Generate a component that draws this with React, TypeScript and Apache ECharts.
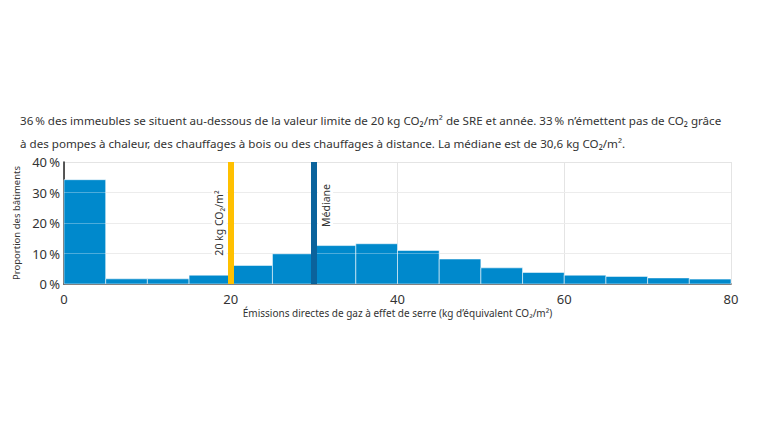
import { useEffect, useRef } from 'react';
import * as echarts from 'echarts';

// histogram bins (kg CO2/m2), share of buildings in %
const binStarts = [0, 5, 10, 15, 20, 25, 30, 35, 40, 45, 50, 55, 60, 65, 70, 75];
const binWidth = 5;
const shares = [34.2, 1.7, 1.7, 2.9, 6.1, 9.9, 12.6, 13.2, 11.0, 8.2, 5.3, 3.8, 2.9, 2.5, 2.0, 1.6];

const limitValue = 20;
const medianValue = 30;

const FONT = '"Noto Sans", sans-serif';

const TITLE =
  '36\u202f% des immeubles se situent au-dessous de la valeur limite de 20 kg CO₂/m² de SRE et année. 33\u202f% n\u2019émettent pas de CO₂ grâce\n' +
  'à des pompes à chaleur, des chauffages à bois ou des chauffages à distance. La médiane est de 30,6 kg CO₂/m².';

export default function App() {
  const chartRef = useRef<HTMLDivElement>(null);

  useEffect(() => {
    if (!chartRef.current) return;
    const chart = echarts.init(chartRef.current, undefined, { renderer: 'svg' });

    const data = binStarts.map((s, i) => [s, s + binWidth, shares[i]]);

    chart.setOption({
      animation: false,
      backgroundColor: '#fff',
      textStyle: { fontFamily: FONT },
      title: {
        text: TITLE,
        left: 15,
        top: 104,
        textStyle: { fontSize: 11.6, fontWeight: 'normal', color: '#333', lineHeight: 23, fontFamily: FONT },
      },
      grid: { left: 64, right: 29, top: 162, bottom: 156 },
      xAxis: {
        type: 'value',
        min: 0,
        max: 80,
        interval: 20,
        name: 'Émissions directes de gaz à effet de serre (kg d\u2019équivalent CO₂/m²)',
        nameLocation: 'middle',
        nameGap: 24,
        nameTextStyle: { fontSize: 10, color: '#333' },
        axisLine: { show: true, lineStyle: { color: '#222', width: 1.5 } },
        axisTick: { show: false },
        axisLabel: { fontSize: 13, color: '#333', margin: 8 },
        splitLine: { show: true, lineStyle: { color: '#e4e4e4', width: 1 } },
      },
      yAxis: {
        type: 'value',
        min: 0,
        max: 40,
        interval: 10,
        name: 'Proportion des bâtiments',
        nameLocation: 'middle',
        nameGap: 40,
        nameTextStyle: { fontSize: 9.5, color: '#333' },
        axisLine: { show: true, lineStyle: { color: '#222', width: 1.5 } },
        axisTick: { show: false },
        axisLabel: { fontSize: 13, color: '#333', margin: 4, formatter: '{value}\u202f%' },
        splitLine: { show: true, lineStyle: { color: '#e4e4e4', width: 1 } },
      },
      series: [
        {
          type: 'custom',
          data,
          encode: { x: [0, 1], y: 2 },
          renderItem: (_params: any, api: any) => {
            const p0 = api.coord([api.value(0), api.value(2)]);
            const p1 = api.coord([api.value(1), 0]);
            return {
              type: 'rect',
              shape: { x: p0[0], y: p0[1], width: p1[0] - p0[0], height: p1[1] - p0[1] },
              style: { fill: '#0089cc', stroke: 'rgba(255,255,255,0.55)', lineWidth: 1 },
            };
          },
          z: 2,
        },
        {
          type: 'line',
          data: [],
          z: 3,
          markLine: {
            silent: true,
            symbol: 'none',
            animation: false,
            data: [
              { yAxis: 10 },
              { yAxis: 20 },
              { yAxis: 30 },
            ],
            lineStyle: { color: 'rgba(255,255,255,0.3)', width: 1, type: 'solid' },
            label: { show: false },
          },
        },
        {
          type: 'line',
          data: [],
          z: 4,
          markLine: {
            silent: true,
            symbol: 'none',
            animation: false,
            data: [
              {
                xAxis: limitValue,
                lineStyle: { color: '#ffc000', width: 6, type: 'solid' },
                label: {
                  show: true,
                  formatter: '20 kg CO₂/m²',
                  position: 'insideMiddleTop',
                  distance: 4,
                  color: '#333',
                  fontSize: 10.5,
                  backgroundColor: '#fff',
                  padding: [2, 4],
                },
              },
              {
                xAxis: medianValue,
                lineStyle: { color: '#0b639c', width: 6, type: 'solid' },
                label: {
                  show: true,
                  formatter: 'Médiane',
                  position: 'insideEndBottom',
                  distance: [18, 4],
                  color: '#333',
                  fontSize: 10.5,
                  backgroundColor: '#fff',
                  padding: [2, 4],
                },
              },
            ],
          },
        },
      ],
    });

    return () => chart.dispose();
  }, []);

  return (
    <div
      ref={chartRef}
      style={{ position: 'fixed', left: 0, top: 0, width: 760, height: 440 }}
    />
  );
}
